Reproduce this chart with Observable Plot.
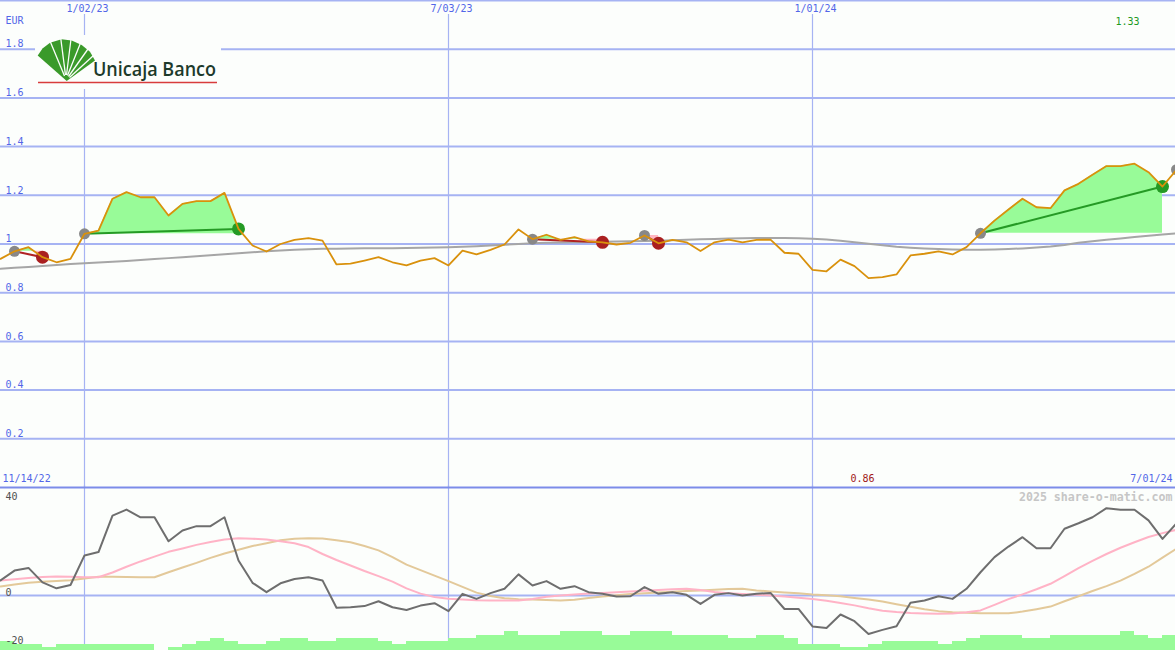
<!DOCTYPE html>
<html><head><meta charset="utf-8">
<script src="https://cdn.jsdelivr.net/npm/d3@7"></script>
<script src="https://cdn.jsdelivr.net/npm/@observablehq/plot@0.6"></script>
<style>
body{margin:0;background:#fcfefc;}
#wrap{position:relative;width:1175px;height:650px;overflow:hidden;background:#fcfefc;}
#wrap svg{position:absolute;left:0;}
</style></head><body><div id="wrap"></div>
<script>
// ---------- data ----------
const weekStart = "2022-11-21", weekEnd = "2024-07-01";
const price = [0.939,0.970,0.987,0.946,0.925,0.939,1.042,1.055,1.186,1.213,
1.192,1.192,1.117,1.165,1.176,1.176,1.210,1.062,0.994,0.969,
1.000,1.017,1.024,1.014,0.916,0.919,0.932,0.946,0.925,0.912,
0.932,0.942,0.912,0.973,0.957,0.976,0.998,1.060,1.020,1.038,
1.017,1.028,1.011,1.007,0.998,1.005,1.035,1.003,1.017,1.007,
0.971,1.007,1.018,1.007,1.017,1.018,0.964,0.960,0.894,0.888,
0.936,0.909,0.860,0.864,0.875,0.953,0.960,0.970,0.957,0.987,
1.044,1.096,1.142,1.186,1.151,1.147,1.220,1.247,1.284,1.320,
1.320,1.330,1.295,1.236,1.305];
const movingAvg = [0.898,0.902,0.906,0.910,0.914,0.918,0.921,0.924,0.927,0.930,
0.934,0.938,0.942,0.946,0.950,0.954,0.958,0.962,0.966,0.970,
0.973,0.976,0.978,0.980,0.981,0.982,0.983,0.983,0.983,0.984,
0.985,0.986,0.987,0.989,0.991,0.994,0.997,1.000,1.003,1.005,
1.006,1.007,1.008,1.009,1.010,1.011,1.012,1.013,1.015,1.017,
1.019,1.021,1.023,1.024,1.025,1.025,1.025,1.024,1.022,1.018,
1.013,1.007,1.001,0.995,0.989,0.985,0.982,0.979,0.977,0.976,
0.976,0.977,0.979,0.982,0.986,0.990,0.996,1.005,1.011,1.017,
1.023,1.029,1.034,1.039,1.044];
const oscillator = [6.3,10.4,11.5,5.5,3.0,4.4,16.7,18.1,33.3,35.8,
32.6,32.6,22.6,27.1,28.9,28.9,32.6,14.6,5.3,1.4,
5.1,6.9,7.6,6.3,-5.1,-4.9,-4.4,-2.4,-4.9,-6.0,
-4.2,-3.2,-6.5,0.7,-1.4,1.0,2.8,8.8,4.2,6.0,
2.8,3.9,1.4,0.7,-0.4,-0.3,3.5,0.7,1.4,0.3,
-3.5,0.3,1.0,0.0,0.7,1.1,-5.6,-5.6,-12.9,-13.5,
-7.9,-10.7,-16.0,-14.3,-12.8,-3.0,-2.1,-0.3,-1.4,2.8,
9.7,16.0,20.4,24.3,19.7,19.7,27.8,30.1,32.6,36.4,
35.7,35.7,31.3,23.6,30.1];
const oscPink = [6.3,6.8,7.3,7.7,7.9,7.8,7.6,7.6,9.6,12.0,
14.2,16.2,18.2,19.6,21.1,22.3,23.3,23.9,23.7,23.3,
22.6,21.8,20.2,17.3,14.8,12.5,10.2,8.1,5.8,3.0,
0.8,-0.6,-1.3,-1.7,-2.0,-2.1,-2.1,-2.1,-1.4,-0.5,
0.0,0.4,0.8,1.1,1.4,1.7,2.0,2.3,2.6,2.8,
2.3,1.5,1.0,0.6,0.3,0.0,-0.4,-0.9,-1.4,-2.2,
-3.1,-4.1,-5.3,-6.3,-6.9,-7.3,-7.5,-7.6,-7.5,-7.0,
-6.2,-3.9,-1.5,0.5,2.6,4.9,8.1,11.4,14.4,17.3,
19.9,22.2,24.4,26.0,27.4];
const oscTan = [3.8,4.6,5.3,5.7,6.0,6.4,7.1,7.8,7.8,7.7,
7.6,7.6,9.7,11.7,13.6,15.7,17.5,19.1,20.6,21.8,
23.0,23.7,23.9,23.8,23.0,22.2,20.6,18.8,16.0,12.9,
10.6,8.3,6.0,3.6,1.2,-0.2,-1.1,-1.5,-1.7,-1.9,
-2.1,-1.8,-1.0,-0.4,0.1,0.6,0.9,1.3,1.6,1.9,
2.1,2.4,2.7,2.8,2.1,1.7,1.3,0.9,0.4,0.1,
-0.3,-1.0,-1.7,-2.5,-3.6,-4.7,-5.7,-6.5,-7.0,-7.2,
-7.4,-7.4,-7.4,-6.7,-5.7,-4.6,-2.4,-0.3,1.9,3.9,
6.2,9.0,12.0,15.8,19.5];
const volumeLevel = [3,2,2,1,2,2,2,2,2,2,
2,0,1,2,3,4,3,2,2,3,
4,4,3,3,4,4,4,3,2,3,
3,3,4,4,5,5,6.3,5,5,5,
6.3,6.3,6.3,5,5,6.3,6.3,6.3,5,5,
5,5,4,4,5,5,4,2,2,2,
1,1,2,3,3,3,3,2,3,4,
5,5,5,4,4,5,5,5,5,5,
6.3,5,4,5];
const tradeEntry = ["2022-11-28","2023-01-02","2023-08-14","2023-10-09","2024-03-25"];
const tradeExit  = ["2022-12-12","2023-03-20","2023-09-18","2023-10-16","2024-06-24"];
const openEntry  = ["2024-07-01"];
const vLineDates  = ["2023-01-02","2023-07-03","2024-01-01"];
const vLineLabels = ["1/02/23","7/03/23","1/01/24"];
const rangeLabels = ["11/14/22","7/01/24"];
const yTicks = [0.2,0.4,0.6,0.8,1,1.2,1.4,1.6,1.8];
const oscTicks = [40,0,-20];
const currency = "EUR";
const watermark = "2025 share-o-matic.com";

// ---------- derived ----------
const dates = d3.utcMonday.range(new Date(weekStart), d3.utcDay.offset(new Date(weekEnd), 1));
const series = dates.map((d,i)=>({date:d, price:price[i], ma:movingAvg[i], osc:oscillator[i], pink:oscPink[i], tan:oscTan[i]}));
const idx = s => dates.findIndex(d => +d === +new Date(s));
const trades = tradeEntry.map((e,k)=>{
  const i0 = idx(e), i1 = idx(tradeExit[k]);
  return {k, i0, i1, x1:dates[i0], y1:price[i0], x2:dates[i1], y2:price[i1], win: price[i1] > price[i0]};
});
const fillPts = [];
for (const t of trades) {
  const e = t.y1;
  for (let i = t.i0; i <= t.i1; i++) {
    if (i > t.i0) {
      const p0 = price[i-1], p1 = price[i];
      if ((p0-e)*(p1-e) < 0) {
        const f = (e-p0)/(p1-p0);
        fillPts.push({trade:t.k, date:new Date(+dates[i-1] + f*(dates[i]-dates[i-1])), price:e, entry:e});
      }
    }
    fillPts.push({trade:t.k, date:dates[i], price:price[i], entry:e});
  }
}
const opens = openEntry.map(s => ({date:dates[idx(s)], price:price[idx(s)]}));
const maxI = d3.maxIndex(price), minI = d3.minIndex(price);

// oscillator panel y domain; volume strip sits on its floor (1 volume unit = 3 px)
const oscDomain = [-22.9, 45], oscRange = [165, 2];
const oscUnitPx = (oscRange[0]-oscRange[1]) / (oscDomain[1]-oscDomain[0]);
const volUnit = 3 / oscUnitPx;
const volData = volumeLevel.map((v,i)=>({d0:dates[i], d1:dates[i+1], v}));

const GRID = "#a6b3f3", SEP = "#7c8ce9", LABEL = "#5266e8";
const FONT = "DejaVu Sans Mono, monospace";
const xScale = {type:"utc", domain:[dates[0], dates[dates.length-1]], range:[0,1176], axis:null};
const wrap = document.getElementById("wrap");

// ---------- price panel ----------
const pricePlot = Plot.plot({
  width:1175, height:487, margin:0,
  x: xScale,
  y: {domain:[0,2], range:[487,0], axis:null},
  style:{background:"transparent", fontFamily:FONT, fontSize:"10px"},
  marks:[
    Plot.ruleY(yTicks, {stroke:GRID, strokeWidth:2}),
    Plot.ruleY([2], {stroke:GRID, strokeWidth:2}),
    Plot.ruleX(vLineDates, {x:d=>new Date(d), stroke:GRID, strokeWidth:1.2, insetTop:14}),
    Plot.areaY(fillPts, {x:"date", y1:"entry", y2:d=>Math.max(d.price,d.entry), z:"trade", fill:"#98fb98", curve:"linear"}),
    Plot.areaY(fillPts, {x:"date", y1:"entry", y2:d=>Math.min(d.price,d.entry), z:"trade", fill:"#ffb6c1", curve:"linear"}),
    Plot.line(series, {x:"date", y:"ma", stroke:"#a6a6a6", strokeWidth:2}),
    Plot.link(trades.filter(t=>t.win), {x1:"x1", y1:"y1", x2:"x2", y2:"y2", stroke:"#259a25", strokeWidth:2}),
    Plot.link(trades.filter(t=>!t.win), {x1:"x1", y1:"y1", x2:"x2", y2:"y2", stroke:"#b02222", strokeWidth:2}),
    Plot.dot(trades, {x:"x1", y:"y1", r:5.5, fill:"#888888"}),
    Plot.dot(opens, {x:"date", y:"price", r:5.5, fill:"#888888"}),
    Plot.dot(trades.filter(t=>t.win), {x:"x2", y:"y2", r:6.5, fill:"#249a24"}),
    Plot.dot(trades.filter(t=>!t.win), {x:"x2", y:"y2", r:6.5, fill:"#aa2020"}),
    Plot.line(series, {x:"date", y:"price", stroke:"#d9910c", strokeWidth:1.8}),
    Plot.text(yTicks, {y:d=>d, text:d=>String(d), frameAnchor:"left", dx:5, dy:-5, textAnchor:"start", lineAnchor:"middle", fill:LABEL}),
    Plot.text(vLineDates, {x:d=>new Date(d), text:(d,i)=>vLineLabels[i], frameAnchor:"top", dy:8, dx:3, lineAnchor:"middle", fill:LABEL}),
    Plot.text([currency], {text:d=>d, frameAnchor:"top-left", dx:5, dy:20, textAnchor:"start", lineAnchor:"middle", fill:LABEL}),
    Plot.text([series[maxI]], {x:"date", text:d=>d.price.toFixed(2), frameAnchor:"top", dy:21, dx:-7, lineAnchor:"middle", fill:"#1e9a1e"}),
    Plot.text([series[minI]], {x:"date", text:d=>d.price.toFixed(2), frameAnchor:"bottom", dy:-9, dx:-6, lineAnchor:"middle", fill:"#a01818"}),
    Plot.text([rangeLabels[0]], {text:d=>d, frameAnchor:"bottom-left", dx:2, dy:-9, textAnchor:"start", lineAnchor:"middle", fill:LABEL}),
    Plot.text([rangeLabels[1]], {text:d=>d, frameAnchor:"bottom-right", dx:-3, dy:-9, textAnchor:"end", lineAnchor:"middle", fill:LABEL})
  ]
});
pricePlot.style.top = "0px";
wrap.appendChild(pricePlot);

// ---------- oscillator panel (with volume strip) ----------
const oscPlot = Plot.plot({
  width:1175, height:165, margin:0,
  x: xScale,
  y: {domain:oscDomain, range:oscRange, axis:null},
  style:{background:"transparent", fontFamily:FONT, fontSize:"10px"},
  marks:[
    Plot.ruleX(vLineDates, {x:d=>new Date(d), stroke:GRID, strokeWidth:1.2, insetBottom:5}),
    Plot.rect(volData, {x1:"d0", x2:"d1", y1:()=>oscDomain[0], y2:d=>oscDomain[0] + d.v*volUnit, fill:"#98fb98", shapeRendering:"crispEdges"}),
    Plot.ruleY([0], {stroke:GRID, strokeWidth:2}),
    Plot.ruleY([oscDomain[1]], {stroke:SEP, strokeWidth:2}),
    Plot.line(series, {x:"date", y:"tan", stroke:"#e3c99a", strokeWidth:2}),
    Plot.line(series, {x:"date", y:"pink", stroke:"#ffb3c6", strokeWidth:2}),
    Plot.line(series, {x:"date", y:"osc", stroke:"#6e6e6e", strokeWidth:2}),
    Plot.text(oscTicks, {y:d=>d, text:d=>String(d), frameAnchor:"left", dx:5, dy:-3, textAnchor:"start", lineAnchor:"middle", fill:"#505050"}),
    Plot.text([watermark], {text:d=>d, frameAnchor:"top-right", dx:-3, dy:12, textAnchor:"end", lineAnchor:"middle", fill:"#c6c6c6", fontWeight:"bold", fontSize:11.6})
  ]
});
oscPlot.style.top = "485px";
wrap.appendChild(oscPlot);

// ---------- logo ----------
const logo = `<svg xmlns="http://www.w3.org/2000/svg" width="200" height="64" viewBox="30 30 200 64" style="position:absolute;left:30px;top:30px">
<rect x="35" y="35" width="186" height="54" fill="#fcfefc"/>
<path d="M66.7,81 L37.7,55.5 L42.5,48.5 L50,42.7 L61.5,39.2 L71.7,40.6 L81.7,45 L90,51.7 L95,60.5 Z" fill="#3a9a2a"/>
<g stroke="#fcfefc" stroke-width="1.3">
<line x1="64.5" y1="76" x2="50" y2="41"/>
<line x1="65.5" y1="75" x2="60.7" y2="38"/>
<line x1="66.5" y1="75" x2="71" y2="39"/>
<line x1="67.5" y1="75.5" x2="80.5" y2="43"/>
<line x1="68.5" y1="76.5" x2="88" y2="49"/>
<line x1="69.5" y1="77.5" x2="93.5" y2="55.5"/>
</g>
<text x="93" y="76" font-family="Open Sans" font-weight="600" font-size="19" fill="#1d3a2b" textLength="123" lengthAdjust="spacingAndGlyphs">Unicaja Banco</text>
<line x1="38" y1="82.5" x2="217" y2="82.5" stroke="#d83c3c" stroke-width="1.5"/>
</svg>`;
wrap.insertAdjacentHTML("beforeend", logo);
</script></body></html>
